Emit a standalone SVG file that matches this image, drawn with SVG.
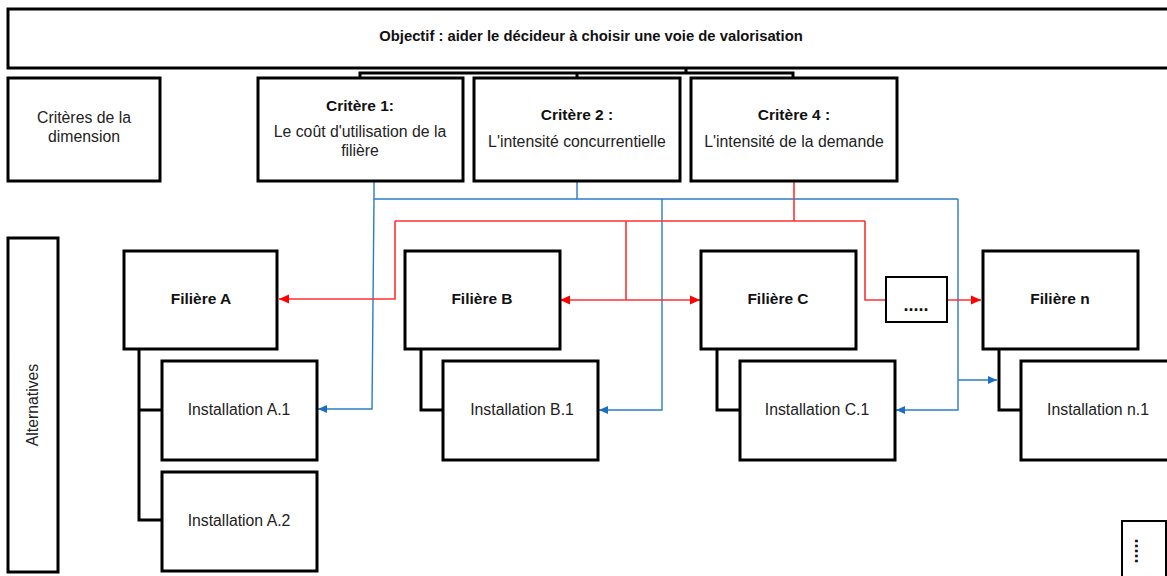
<svg xmlns="http://www.w3.org/2000/svg" width="1167" height="576" viewBox="0 0 1167 576">
<style>
.box{fill:#fff;stroke:#000;stroke-width:3}
.thin{fill:#fff;stroke:#000;stroke-width:2}
.t{font-family:"Liberation Sans",Arial,sans-serif;font-size:15.8px;fill:#222;text-anchor:middle}
.b{font-family:"Liberation Sans",Arial,sans-serif;font-size:15.5px;font-weight:bold;fill:#111;text-anchor:middle}
.obj{font-size:14.8px}
.dots{font-family:"Liberation Sans",Arial,sans-serif;font-size:18px;font-weight:bold;fill:#111;text-anchor:middle}
.tree{fill:none;stroke:#000;stroke-width:3}
.blue{fill:none;stroke:#2a7cc9;stroke-width:1.4}
.red{fill:none;stroke:#ff3030;stroke-width:1.6}
</style>
<defs>
<marker id="ab" markerUnits="userSpaceOnUse" markerWidth="10" markerHeight="10" refX="9" refY="5" orient="auto-start-reverse" viewBox="0 0 10 10"><path d="M0,1 L9,5 L0,9 Z" fill="#1a6fc4"/></marker>
<marker id="ar" markerUnits="userSpaceOnUse" markerWidth="11" markerHeight="11" refX="10" refY="5.5" orient="auto-start-reverse" viewBox="0 0 11 11"><path d="M0,1 L10,5.5 L0,10 Z" fill="#ff0000"/></marker>
</defs>
<rect width="1167" height="576" fill="#fff"/>

<g id="connectors">
<path class="tree" d="M686,68 V73 M360,78 V73 H793 V78 M577,73 V78"/>
<path class="tree" d="M139,349 V520 H162 M139,410 H162"/>
<path class="tree" d="M421,349 V410 H443"/>
<path class="tree" d="M717,349 V410 H740"/>
<path class="tree" d="M999,349 V410 H1021"/>
<path class="blue" d="M374,181 V199 H958"/>
<path class="blue" d="M577,181 V199"/>
<path class="blue" d="M374,199 L372,409 H318" marker-end="url(#ab)"/>
<path class="blue" d="M662,199 V410 H599" marker-end="url(#ab)"/>
<path class="blue" d="M958,199 V410 H896" marker-end="url(#ab)"/>
<path class="blue" d="M958,380 H997" marker-end="url(#ab)"/>
<path class="red" d="M794,181 V221"/>
<path class="red" d="M395,221 H865"/>
<path class="red" d="M395,221 V299 H279" marker-end="url(#ar)"/>
<path class="red" d="M626,221 V300"/>
<path class="red" d="M560,300 H700" marker-start="url(#ar)" marker-end="url(#ar)"/>
<path class="red" d="M865,221 V300 H981" marker-end="url(#ar)"/>
</g>

<g id="objectif"><rect class="box" x="8" y="9" width="1170" height="59"/><text class="b obj" x="591" y="41">Objectif : aider le décideur à choisir une voie de valorisation</text></g>
<g id="criteres-dimension"><rect class="box" x="8" y="78" width="152" height="103"/><text class="t" x="84" y="123">Critères de la</text><text class="t" x="84" y="142">dimension</text></g>
<g id="critere1"><rect class="box" x="258" y="78" width="205" height="103"/><text class="b" x="360" y="111">Critère 1:</text><text class="t" x="360" y="137">Le coût d'utilisation de la</text><text class="t" x="360" y="156">filière</text></g>
<g id="critere2"><rect class="box" x="474" y="78" width="206" height="103"/><text class="b" x="577" y="120">Critère 2 :</text><text class="t" x="577" y="147">L'intensité concurrentielle</text></g>
<g id="critere4"><rect class="box" x="691" y="78" width="206" height="103"/><text class="b" x="794" y="120">Critère 4 :</text><text class="t" x="794" y="147">L'intensité de la demande</text></g>

<g id="alternatives"><rect class="box" x="8" y="238" width="50" height="334"/><text class="t" transform="translate(38,405) rotate(-90)">Alternatives</text></g>

<g id="filiere-a"><rect class="box" x="124" y="251" width="153" height="98"/><text class="b" x="201" y="304">Filière A</text></g>
<g id="filiere-b"><rect class="box" x="405" y="251" width="155" height="98"/><text class="b" x="482" y="304">Filière B</text></g>
<g id="filiere-c"><rect class="box" x="701" y="251" width="155" height="98"/><text class="b" x="778" y="304">Filière C</text></g>
<g id="filiere-n"><rect class="box" x="983" y="251" width="155" height="98"/><text class="b" x="1060" y="304">Filière n</text></g>
<g id="dots-h"><rect class="thin" x="886" y="277" width="61" height="45"/><text class="dots" x="916" y="311">.....</text></g>

<g id="inst-a1"><rect class="box" x="162" y="361" width="155" height="99"/><text class="t" x="239" y="415">Installation A.1</text></g>
<g id="inst-a2"><rect class="box" x="162" y="472" width="155" height="99"/><text class="t" x="239" y="526">Installation A.2</text></g>
<g id="inst-b1"><rect class="box" x="443" y="361" width="155" height="99"/><text class="t" x="522" y="415">Installation B.1</text></g>
<g id="inst-c1"><rect class="box" x="740" y="361" width="155" height="99"/><text class="t" x="817" y="415">Installation C.1</text></g>
<g id="inst-n1"><rect class="box" x="1021" y="361" width="160" height="99"/><text class="t" x="1098" y="415">Installation n.1</text></g>
<g id="dots-v"><rect class="thin" x="1122" y="521" width="44" height="60"/><text class="dots" transform="translate(1135,551) rotate(90)">.....</text></g>
</svg>
